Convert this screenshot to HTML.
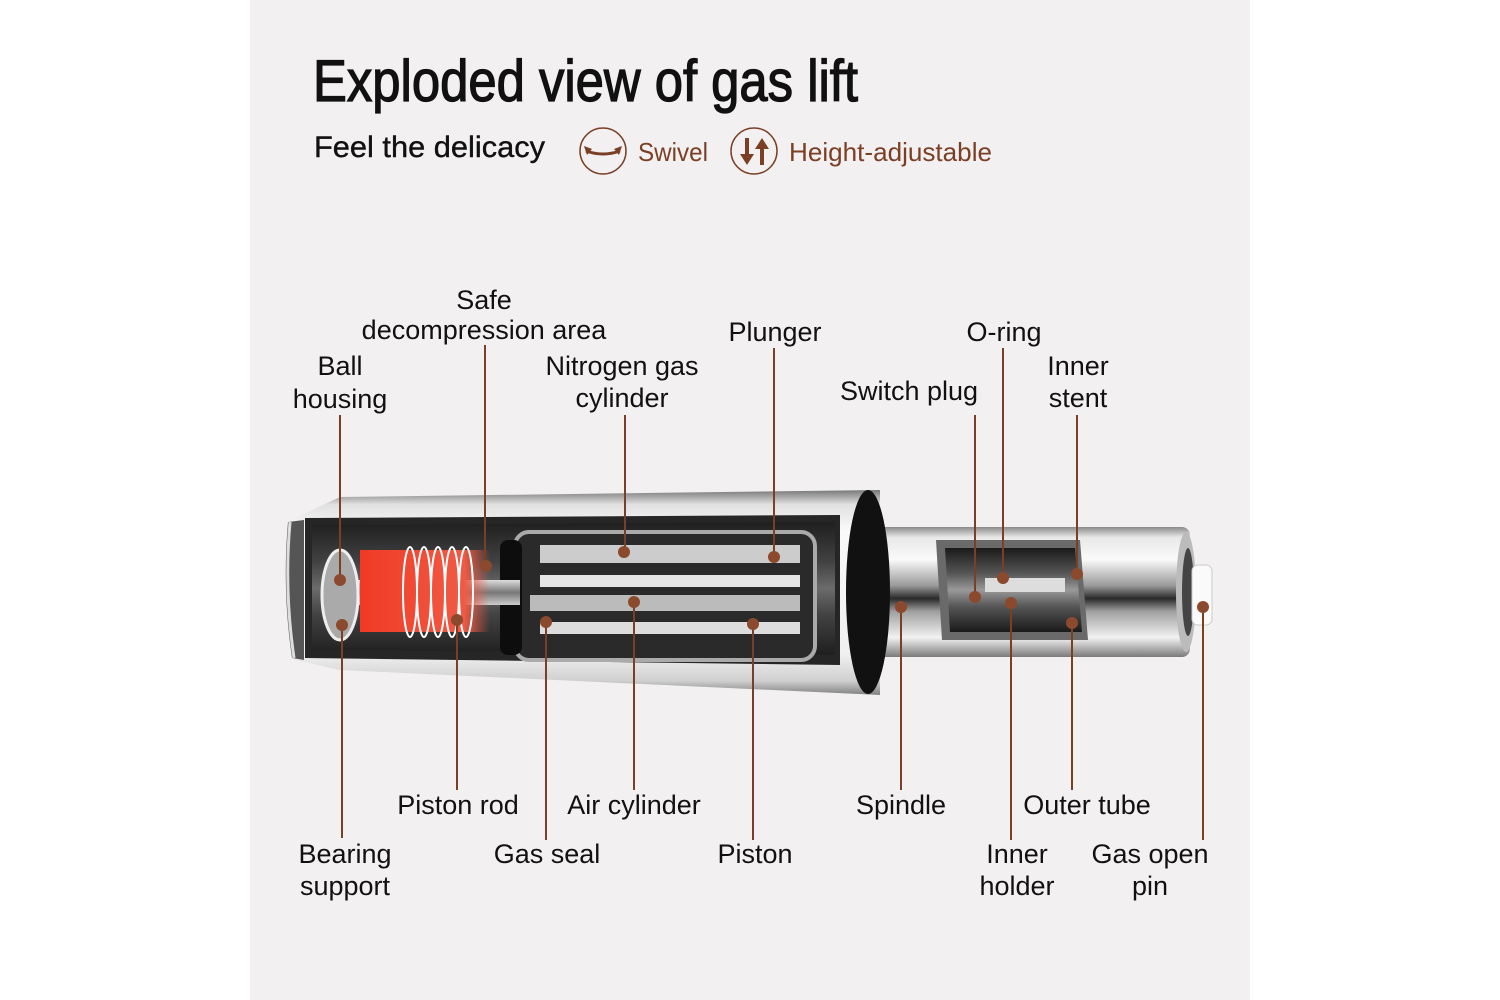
<!DOCTYPE html>
<html><head><meta charset="utf-8"><style>
html,body{margin:0;padding:0;background:#fff;}
svg{display:block;}
text{font-family:"Liberation Sans",sans-serif;}
</style></head><body>
<svg width="1500" height="1000" viewBox="0 0 1500 1000" xmlns="http://www.w3.org/2000/svg">
<defs>
<linearGradient id="metal" x1="0" y1="0" x2="0" y2="1">
<stop offset="0" stop-color="#8a8a8a"/><stop offset="0.08" stop-color="#e8e8e8"/><stop offset="0.25" stop-color="#fafafa"/>
<stop offset="0.45" stop-color="#9a9a9a"/><stop offset="0.55" stop-color="#2a2a2a"/><stop offset="0.65" stop-color="#a0a0a0"/>
<stop offset="0.85" stop-color="#f2f2f2"/><stop offset="1" stop-color="#7a7a7a"/></linearGradient>
<linearGradient id="big" x1="0" y1="0" x2="0" y2="1">
<stop offset="0" stop-color="#777"/><stop offset="0.07" stop-color="#e0e0e0"/><stop offset="0.2" stop-color="#fafafa"/>
<stop offset="0.8" stop-color="#f0f0f0"/><stop offset="0.93" stop-color="#d0d0d0"/><stop offset="1" stop-color="#808080"/></linearGradient>
<linearGradient id="inner" x1="0" y1="0" x2="0" y2="1">
<stop offset="0" stop-color="#1a1a1a"/><stop offset="0.3" stop-color="#555"/><stop offset="0.5" stop-color="#999"/><stop offset="0.7" stop-color="#555"/><stop offset="1" stop-color="#1a1a1a"/></linearGradient>
<linearGradient id="rod" x1="0" y1="0" x2="0" y2="1">
<stop offset="0" stop-color="#ddd"/><stop offset="0.5" stop-color="#777"/><stop offset="1" stop-color="#ccc"/></linearGradient>
<linearGradient id="red" x1="0" y1="0" x2="1" y2="0">
<stop offset="0" stop-color="#f03a25"/><stop offset="0.8" stop-color="#f05a45"/><stop offset="1" stop-color="#f05a45" stop-opacity="0"/></linearGradient>
</defs>
<rect x="250" y="0" width="1000" height="1000" fill="#f2f0f0"/>

<text x="313" y="101" font-size="58" textLength="545" lengthAdjust="spacingAndGlyphs" fill="#111" stroke="#111" stroke-width="1.3">Exploded view of gas lift</text>
<text x="314" y="157" font-size="30" textLength="231" lengthAdjust="spacingAndGlyphs" fill="#111" stroke="#111" stroke-width="0.4">Feel the delicacy</text>
<circle cx="603" cy="151" r="23" fill="none" stroke="#7a3f25" stroke-width="1.5"/>
<path d="M586 151 q17 6 34 0" fill="none" stroke="#7a3f25" stroke-width="3"/>
<path d="M584 146 l8 3 l-5 6z M622 146 l-8 3 l5 6z" fill="#7a3f25"/>
<text x="638" y="161" font-size="26" fill="#7a3f25" textLength="70" lengthAdjust="spacingAndGlyphs">Swivel</text>
<circle cx="754" cy="151" r="23" fill="none" stroke="#7a3f25" stroke-width="1.5"/>
<path d="M745 138 v16 h-5 l7 11 l7-11 h-5 v-16z M760 165 v-16 h-5 l7 -11 l7 11 h-5 v16z" fill="#7a3f25"/>
<text x="789" y="161" font-size="26" fill="#7a3f25" textLength="203" lengthAdjust="spacingAndGlyphs">Height-adjustable</text>

<!-- small tube -->
<rect x="865" y="527" width="325" height="130" rx="8" fill="url(#metal)"/>
<ellipse cx="1186" cy="592" rx="10" ry="60" fill="#bbb"/>
<ellipse cx="1188" cy="592" rx="6" ry="44" fill="#444"/>
<rect x="1192" y="565" width="20" height="60" rx="6" fill="#fafafa" stroke="#ccc"/>
<path d="M936 540 L1080 540 L1088 640 L942 640 Z" fill="#6a6a6a"/>
<path d="M945 548 L1075 548 L1082 632 L950 632 Z" fill="url(#inner)"/>
<rect x="985" y="578" width="80" height="14" fill="#ddd"/>
<!-- big cylinder -->
<path d="M295 518 L340 497 L880 490 L880 695 L340 670 L295 660 Z" fill="url(#big)"/>
<path d="M288 522 Q282 590 292 658 L304 660 L304 520 Z" fill="#555"/>
<path d="M290 522 Q284 590 294 658" fill="none" stroke="#ddd" stroke-width="3"/>
<ellipse cx="868" cy="592" rx="22" ry="102" fill="#111"/>
<path d="M305 518 L840 515 L840 665 L305 658 Z" fill="#262626"/>
<path d="M312 525 L835 522 L835 655 L312 650 Z" fill="url(#inner)" opacity="0.6"/>
<rect x="515" y="532" width="300" height="128" rx="14" fill="#2a2a2a" stroke="#aaa" stroke-width="4"/>
<rect x="540" y="545" width="260" height="18" fill="#ccc"/>
<rect x="540" y="575" width="260" height="12" fill="#e6e6e6"/>
<rect x="530" y="595" width="270" height="16" fill="#bbb"/>
<rect x="540" y="622" width="260" height="12" fill="#ddd"/>
<rect x="500" y="540" width="22" height="115" rx="8" fill="#0d0d0d"/>
<rect x="340" y="580" width="180" height="25" fill="url(#rod)"/>
<rect x="360" y="550" width="130" height="82" fill="url(#red)"/>
<g fill="none" stroke="#fff" stroke-width="2">
<ellipse cx="410" cy="592" rx="7" ry="45"/><ellipse cx="424" cy="592" rx="7" ry="45"/><ellipse cx="438" cy="592" rx="7" ry="45"/><ellipse cx="452" cy="592" rx="7" ry="45"/><ellipse cx="466" cy="592" rx="7" ry="45"/>
</g>
<ellipse cx="340" cy="595" rx="18" ry="45" fill="#aaa" stroke="#eee" stroke-width="3"/>

<!-- connectors -->
<g stroke="#7a3f25" stroke-width="2">
<line x1="340" y1="415" x2="340" y2="580"/><line x1="485" y1="345" x2="485" y2="566"/>
<line x1="625" y1="415" x2="625" y2="552"/><line x1="774" y1="348" x2="774" y2="557"/>
<line x1="975" y1="415" x2="975" y2="597"/><line x1="1003" y1="348" x2="1003" y2="578"/>
<line x1="1077" y1="415" x2="1077" y2="574"/>
<line x1="342" y1="625" x2="342" y2="838"/><line x1="457" y1="620" x2="457" y2="790"/>
<line x1="546" y1="622" x2="546" y2="840"/><line x1="634" y1="602" x2="634" y2="790"/>
<line x1="753" y1="624" x2="753" y2="840"/><line x1="901" y1="607" x2="901" y2="790"/>
<line x1="1011" y1="603" x2="1011" y2="840"/><line x1="1072" y1="623" x2="1072" y2="790"/>
<line x1="1203" y1="607" x2="1203" y2="840"/>
</g>
<g fill="#8b4a2e">
<circle cx="340" cy="580" r="6"/><circle cx="486" cy="566" r="6"/><circle cx="624" cy="552" r="6"/><circle cx="774" cy="557" r="6"/>
<circle cx="975" cy="597" r="6"/><circle cx="1003" cy="578" r="6"/><circle cx="1077" cy="574" r="6"/>
<circle cx="342" cy="625" r="6"/><circle cx="457" cy="620" r="6"/><circle cx="546" cy="622" r="6"/><circle cx="634" cy="602" r="6"/>
<circle cx="753" cy="624" r="6"/><circle cx="901" cy="607" r="6"/><circle cx="1011" cy="603" r="6"/><circle cx="1072" cy="623" r="6"/><circle cx="1203" cy="607" r="6"/>
</g>

<g font-size="27" fill="#111" text-anchor="middle">
<text x="484" y="309">Safe</text><text x="484" y="339">decompression area</text>
<text x="340" y="375">Ball</text><text x="340" y="408">housing</text>
<text x="622" y="375">Nitrogen gas</text><text x="622" y="407">cylinder</text>
<text x="775" y="341">Plunger</text><text x="1004" y="341">O-ring</text>
<text x="909" y="400">Switch plug</text>
<text x="1078" y="375">Inner</text><text x="1078" y="407">stent</text>
<text x="458" y="814">Piston rod</text><text x="634" y="814">Air cylinder</text>
<text x="901" y="814">Spindle</text><text x="1087" y="814">Outer tube</text>
<text x="345" y="863">Bearing</text><text x="345" y="895">support</text>
<text x="547" y="863">Gas seal</text><text x="755" y="863">Piston</text>
<text x="1017" y="863">Inner</text><text x="1017" y="895">holder</text>
<text x="1150" y="863">Gas open</text><text x="1150" y="895">pin</text>
</g>
</svg>
</body></html>
